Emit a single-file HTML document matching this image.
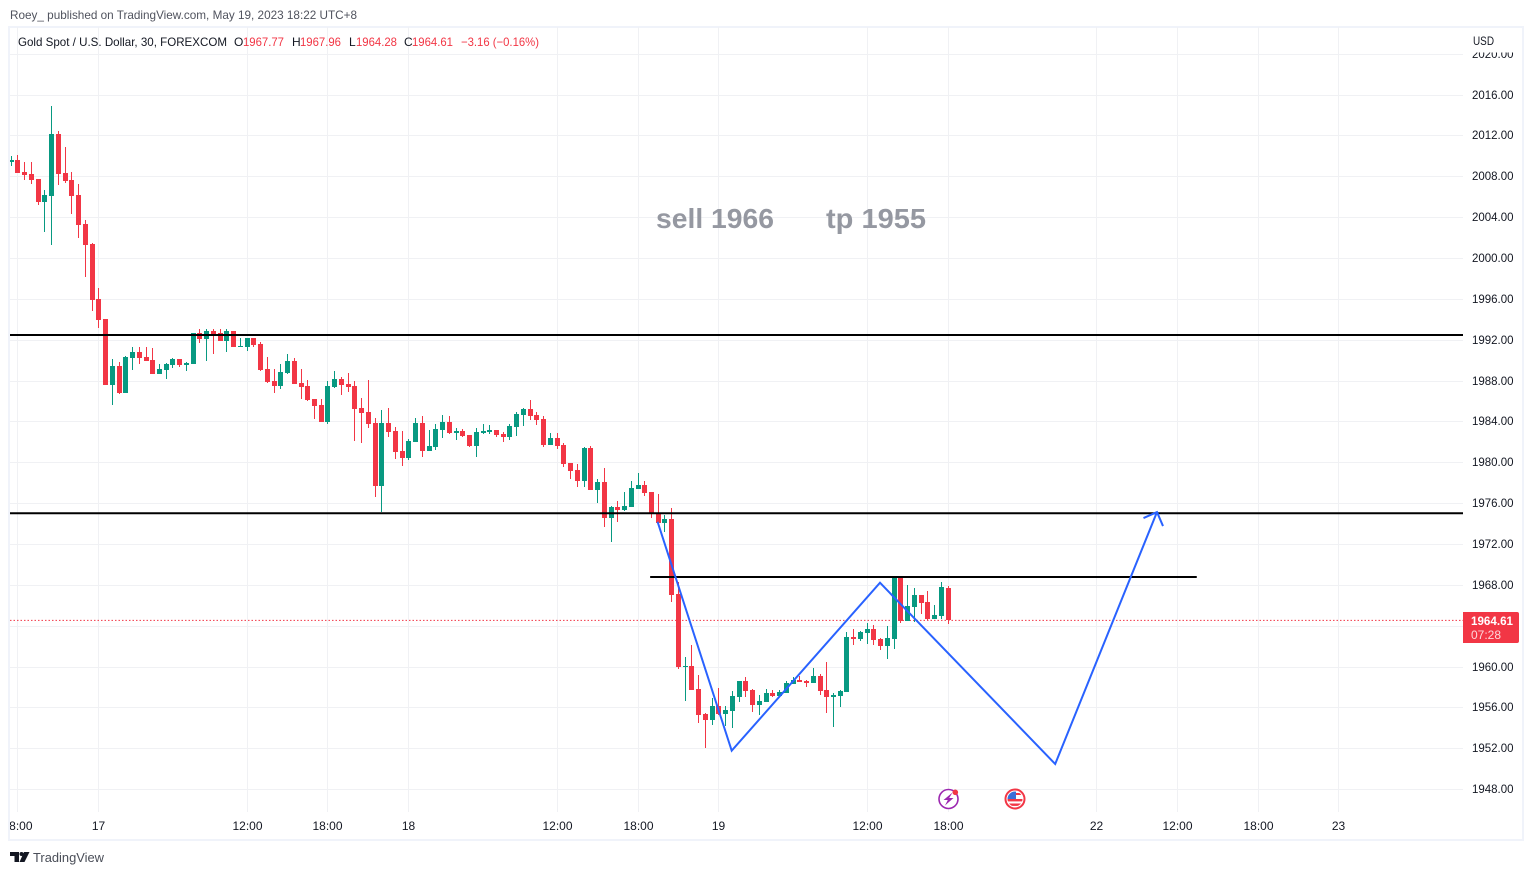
<!DOCTYPE html>
<html lang="en">
<head>
<meta charset="utf-8">
<title>Gold Spot / U.S. Dollar chart</title>
<style>
html,body{margin:0;padding:0;background:#fff;width:1533px;height:875px;overflow:hidden}
svg{display:block;font-family:"Liberation Sans",Arial,sans-serif}
</style>
</head>
<body>
<svg id="chart" xmlns="http://www.w3.org/2000/svg" width="1533" height="875" viewBox="0 0 1533 875">
  <defs>
    <clipPath id="pane-clip"><rect x="10" y="27" width="1453" height="786"/></clipPath>
    <clipPath id="time-clip"><rect x="10" y="813" width="1453" height="26"/></clipPath>
    <clipPath id="price-clip"><rect x="1464" y="52.5" width="58" height="760"/></clipPath>
    <clipPath id="flag-clip"><circle cx="1015" cy="799" r="7.5"/></clipPath>
  </defs>
  <rect x="0" y="0" width="1533" height="875" fill="#ffffff"/>
  <text x="10" y="19" font-size="12" fill="#50535e" textLength="347" lengthAdjust="spacingAndGlyphs">Roey_ published on TradingView.com, May 19, 2023 18:22 UTC+8</text>
  <rect x="9" y="27" width="1514" height="813" fill="none" stroke="#f0f3fa" stroke-width="2"/>
  <g id="grid" shape-rendering="crispEdges"></g>
  <line id="lastLine" x1="10" x2="1463" stroke="#f23645" stroke-width="1" stroke-dasharray="1.5 2"/>
  <g id="candles" shape-rendering="crispEdges" clip-path="url(#pane-clip)"></g>
  <g id="drawings" clip-path="url(#pane-clip)"></g>

  <text x="656" y="228" font-size="28" font-weight="700" fill="#9598a1" textLength="118" lengthAdjust="spacingAndGlyphs">sell 1966</text>
  <text x="826" y="228" font-size="28" font-weight="700" fill="#9598a1" textLength="100" lengthAdjust="spacingAndGlyphs">tp 1955</text>

  <g font-size="12">
    <text x="18" y="46" fill="#131722" textLength="209" lengthAdjust="spacingAndGlyphs">Gold Spot / U.S. Dollar, 30, FOREXCOM</text>
    <text x="234" y="46" fill="#131722">O</text>
    <text x="243" y="46" fill="#f23645" textLength="41" lengthAdjust="spacingAndGlyphs">1967.77</text>
    <text x="292" y="46" fill="#131722">H</text>
    <text x="300" y="46" fill="#f23645" textLength="41" lengthAdjust="spacingAndGlyphs">1967.96</text>
    <text x="349" y="46" fill="#131722">L</text>
    <text x="356" y="46" fill="#f23645" textLength="41" lengthAdjust="spacingAndGlyphs">1964.28</text>
    <text x="404" y="46" fill="#131722">C</text>
    <text x="412" y="46" fill="#f23645" textLength="41" lengthAdjust="spacingAndGlyphs">1964.61</text>
    <text x="461" y="46" fill="#f23645" textLength="78" lengthAdjust="spacingAndGlyphs">−3.16 (−0.16%)</text>
  </g>

  <text x="1473" y="45" font-size="12" fill="#131722" textLength="21" lengthAdjust="spacingAndGlyphs">USD</text>
  <g id="priceAxis" clip-path="url(#price-clip)" font-size="12" fill="#131722"></g>
  <g id="timeAxis" clip-path="url(#time-clip)" font-size="12" fill="#131722" text-anchor="middle"></g>

  <g>
    <path d="M1463 612H1517a2 2 0 0 1 2 2V641a2 2 0 0 1-2 2H1463Z" fill="#f23645"/>
    <text x="1471" y="625" font-size="12" font-weight="700" fill="#ffffff" textLength="42" lengthAdjust="spacingAndGlyphs">1964.61</text>
    <text x="1471" y="639" font-size="12" fill="#ffffff" fill-opacity="0.8" textLength="30" lengthAdjust="spacingAndGlyphs">07:28</text>
  </g>

  <g>
    <circle cx="948.5" cy="799" r="9.5" fill="#ffffff" stroke="#9c27b0" stroke-width="1.6"/>
    <path d="M952.5 792.5L943.5 800H947.8L945 805.5L953.5 798H949.2Z" fill="#9c27b0"/>
    <circle cx="955.3" cy="792.3" r="2.8" fill="#f23645"/>
  </g>
  <g>
    <circle cx="1015" cy="799" r="9.5" fill="#ffffff" stroke="#f23645" stroke-width="2"/>
    <g clip-path="url(#flag-clip)">
      <rect x="1007" y="791" width="16" height="16" fill="#ffffff"/>
      <rect x="1015" y="793" width="9" height="2" fill="#f23645"/>
      <rect x="1007" y="799" width="16" height="2.4" fill="#f23645"/>
      <rect x="1007" y="803.5" width="16" height="2.4" fill="#f23645"/>
      <rect x="1007" y="791" width="9" height="8" fill="#3b6fd8"/>
    </g>
  </g>

  <g>
    <path d="M10 852H19V862H14.5V856H10Z" fill="#131722"/>
    <circle cx="21.5" cy="854" r="2" fill="#131722"/>
    <path d="M24 852H29.5L24.5 862H19.5Z" fill="#131722"/>
    <text x="33" y="862" font-size="13" fill="#4a4e58" textLength="71" lengthAdjust="spacingAndGlyphs">TradingView</text>
  </g>
</svg>
<script>
// Chart data: values
const opens = [
2009.52,2009.69,2008.51,2008.32,2007.83,2005.58,2006.16,2012.23,2008.41,2007.73,
2006.26,2003.42,2001.47,1996.08,1994.12,1987.66,1989.52,1986.88,1990.30,1990.89,
1990.40,1990.11,1988.74,1989.13,1989.62,1990.21,1989.62,1989.72,1992.75,1992.16,
1992.95,1992.75,1991.97,1992.95,1991.38,1991.38,1992.26,1991.67,1989.22,1988.05,
1987.56,1988.83,1990.01,1987.85,1987.56,1986.29,1985.70,1984.03,1987.46,1988.24,
1987.75,1987.56,1985.41,1985.01,1983.94,1977.77,1983.94,1983.15,1981.20,1980.51,
1982.08,1983.94,1981.20,1981.59,1983.25,1984.04,1982.96,1983.16,1982.76,1981.69,
1982.96,1983.06,1983.25,1982.86,1982.57,1983.55,1984.72,1985.31,1984.72,1984.33,
1981.79,1982.47,1981.79,1980.02,1979.34,1978.26,1981.49,1977.38,1978.16,1974.64,
1975.72,1975.42,1975.72,1977.48,1977.87,1977.19,1975.03,1974.15,1974.54,1967.20,
1960.05,1960.15,1957.90,1955.45,1954.86,1956.23,1955.45,1955.74,1957.12,1958.68,
1957.80,1956.33,1956.63,1957.51,1957.21,1957.51,1958.39,1958.78,1958.68,1958.49,
1959.17,1957.80,1957.12,1957.21,1957.61,1962.99,1962.79,1963.38,1963.77,1962.79,
1962.11,1962.79,1968.90,1964.56,1965.93,1967.10,1966.42,1964.75,1965.05,1967.77];
const highs = [
2010.08,2010.18,2009.49,2009.49,2007.83,2006.75,2014.97,2012.53,2010.96,2008.51,
2007.34,2003.81,2001.56,1997.16,1994.12,1990.21,1989.91,1990.50,1991.38,1991.38,
1991.38,1991.28,1989.72,1989.82,1990.30,1990.21,1989.91,1992.75,1993.14,1993.14,
1993.14,1993.14,1993.14,1992.95,1992.26,1992.26,1992.26,1991.87,1990.40,1989.22,
1989.71,1990.69,1990.30,1989.22,1988.15,1986.29,1986.29,1988.05,1989.03,1988.44,
1988.83,1988.05,1986.38,1988.15,1984.43,1985.21,1985.41,1983.55,1983.15,1982.37,
1984.43,1984.62,1983.25,1983.84,1984.72,1984.62,1983.45,1983.35,1982.76,1983.45,
1983.84,1983.74,1983.25,1983.06,1983.84,1985.02,1985.41,1986.19,1985.02,1984.62,
1982.96,1982.96,1981.98,1980.02,1979.93,1981.59,1981.69,1978.46,1979.53,1975.81,
1976.30,1977.19,1978.26,1979.04,1978.26,1977.19,1976.99,1974.93,1975.62,1968.37,
1961.03,1962.21,1959.27,1955.55,1957.02,1958.00,1956.23,1957.70,1958.68,1959.07,
1957.90,1957.31,1957.90,1957.80,1957.80,1958.68,1959.07,1959.17,1958.78,1959.96,
1959.37,1960.54,1957.51,1957.80,1963.48,1963.77,1963.58,1964.36,1964.17,1962.89,
1964.07,1968.90,1968.90,1968.08,1967.79,1967.10,1967.49,1966.12,1968.38,1967.96];
const lows = [
2009.10,2008.45,2007.73,2007.34,2005.28,2002.64,2001.37,2007.24,2007.44,2004.40,
2002.05,1998.23,1994.91,1993.24,1987.66,1985.70,1986.78,1986.88,1989.13,1989.72,
1990.01,1988.74,1988.74,1988.25,1989.33,1989.42,1989.03,1989.72,1991.77,1990.01,
1990.70,1991.97,1990.89,1991.38,1991.38,1990.99,1991.38,1989.03,1987.85,1986.87,
1987.27,1988.73,1987.75,1986.29,1986.09,1984.33,1984.03,1983.84,1987.36,1986.68,
1986.97,1982.17,1981.98,1983.45,1976.69,1975.22,1982.57,1980.41,1979.73,1980.32,
1982.08,1980.61,1981.20,1981.30,1982.47,1982.86,1982.28,1982.57,1981.59,1980.61,
1982.86,1982.86,1982.57,1982.08,1982.28,1982.67,1983.65,1984.23,1983.74,1981.59,
1981.79,1981.39,1979.63,1978.46,1977.67,1977.67,1977.38,1976.11,1973.76,1972.29,
1974.25,1975.32,1975.72,1977.48,1976.79,1974.64,1974.15,1973.27,1966.41,1959.86,
1956.72,1957.80,1954.57,1952.12,1954.37,1955.35,1954.28,1954.08,1956.63,1957.12,
1955.65,1955.35,1956.63,1957.12,1957.21,1957.51,1958.39,1958.59,1958.10,1958.49,
1957.31,1955.55,1954.18,1956.14,1957.61,1962.21,1962.60,1962.31,1962.21,1961.72,
1960.84,1961.82,1964.36,1964.56,1964.46,1965.24,1964.65,1964.75,1964.75,1964.28];
const closes = [
2009.69,2008.45,2008.22,2007.73,2005.58,2006.26,2012.23,2008.32,2007.63,2006.16,
2003.32,2001.37,1995.98,1994.03,1987.66,1989.52,1986.88,1990.40,1990.89,1990.30,
1990.01,1988.74,1989.23,1989.72,1990.21,1989.62,1989.82,1992.75,1992.16,1992.95,
1992.56,1991.97,1992.95,1991.38,1991.48,1992.26,1991.58,1989.13,1987.95,1987.56,
1988.93,1990.01,1987.75,1987.46,1986.19,1985.60,1984.03,1987.56,1988.24,1987.66,
1987.46,1985.31,1984.92,1983.84,1977.77,1983.94,1983.06,1981.10,1980.51,1982.18,
1983.94,1981.20,1981.69,1983.35,1984.04,1982.96,1983.16,1982.67,1981.69,1983.06,
1983.16,1983.25,1982.76,1982.57,1983.65,1984.82,1985.31,1984.62,1984.23,1981.79,
1982.47,1981.69,1979.93,1979.24,1978.26,1981.49,1977.38,1978.16,1974.64,1975.72,
1975.42,1975.81,1977.58,1977.87,1977.09,1975.13,1974.15,1974.54,1967.10,1960.05,
1960.15,1957.80,1955.35,1954.86,1956.23,1955.45,1955.84,1957.21,1958.68,1957.70,
1956.33,1956.72,1957.51,1957.21,1957.60,1958.49,1958.78,1958.59,1958.49,1959.17,
1957.70,1957.12,1957.31,1957.70,1962.99,1962.79,1963.48,1963.77,1962.70,1962.11,
1962.89,1968.90,1964.56,1966.03,1967.10,1966.32,1964.75,1965.14,1967.89,1964.61];

const priceTicks = [2020,2016,2012,2008,2004,2000,1996,1992,1988,1984,1980,1976,1972,1968,1964,1960,1956,1952,1948];
const timeTickLabels = ["18:00","17","12:00","18:00","18","12:00","18:00","19","12:00","18:00","22","12:00","18:00","23"];
const timeTickBars = [1,13,35,47,59,81,93,105,127,139,161,173,185,197];

const lastPrice = 1964.61;
const levelPrices = [1992.55,1975.10];
const shortLevelPrice = 1968.86;
const shortLevelBars = [94.8,175.9];
const pathBars = [95.9,106.9,128.9,154.9,170.0];
const pathPrices = [1974.27,1951.86,1968.30,1950.55,1975.22];

const NS = "http://www.w3.org/2000/svg";
const UP = "#089981", DOWN = "#f23645", GRID = "#f0f1f4", BLUE = "#2962ff";
function barX(i){ return 11.2 + 6.74 * i; }
function priceY(p){ return 95.5 + (2016 - p) * 10.2145; }
function make(tag, attrs, parent){
  const el = document.createElementNS(NS, tag);
  for (const k in attrs) el.setAttribute(k, attrs[k]);
  parent.appendChild(el);
  return el;
}
const gridG = document.getElementById("grid");
const candleG = document.getElementById("candles");
const drawG = document.getElementById("drawings");
const priceG = document.getElementById("priceAxis");
const timeG = document.getElementById("timeAxis");

priceTicks.forEach(function(p){
  const gy = Math.floor(priceY(p) - 0.5);
  const line = make("rect", {x:10, y:gy, width:1453, height:1, fill:GRID}, gridG);
  
  
  const label = make("text", {x:1472, y:gy + 4, textLength:41.5, lengthAdjust:"spacingAndGlyphs"}, priceG);
  label.textContent = p.toFixed(2);
  
  
});
timeTickBars.forEach(function(b, k){
  const px = Math.floor(barX(b));
  const line = make("rect", {x:px, y:27, width:1, height:785, fill:GRID}, gridG);
  
  
  const label = make("text", {x:px + 0.5, y:830}, timeG);
  label.textContent = timeTickLabels[k];
  
  
});

const lastLine = document.getElementById("lastLine");
lastLine.setAttribute("y1", priceY(lastPrice));
lastLine.setAttribute("y2", priceY(lastPrice));

opens.forEach(function(o, i){
  const c = closes[i], color = c >= o ? UP : DOWN;
  const px = Math.floor(barX(i));
  const hiY = Math.round(priceY(highs[i])), loY = Math.round(priceY(lows[i]));
  const topY = Math.round(priceY(Math.max(o, c))), botY = Math.round(priceY(Math.min(o, c)));
  const wick = make("rect", {x:px, y:hiY, width:1, height:Math.max(1, loY - hiY), fill:color}, candleG);
  
  
  const body = make("rect", {x:px - 2, y:topY, width:5, height:Math.max(1, botY - topY), fill:color}, candleG);
  
  
});

levelPrices.forEach(function(p){
  const l = make("line", {x1:10, x2:1463, y1:priceY(p), y2:priceY(p), stroke:"#000000", "stroke-width":2}, drawG);
  
  
});
const shortLine = make("line", {x1:barX(shortLevelBars[0]), x2:barX(shortLevelBars[1]), y1:priceY(shortLevelPrice), y2:priceY(shortLevelPrice), stroke:"#000000", "stroke-width":2}, drawG);



const pathPoints = pathBars.map(function(b, i){ return barX(b).toFixed(1) + "," + priceY(pathPrices[i]).toFixed(1); }).join(" ");
const projection = make("polyline", {points:pathPoints, fill:"none", stroke:BLUE, "stroke-width":2, "stroke-linejoin":"miter"}, drawG);



const tipX = barX(pathBars[4]), tipY = priceY(pathPrices[4]);
const head = make("polyline", {points:(tipX-13.5)+","+(tipY+6)+" "+tipX+","+tipY+" "+(tipX+6)+","+(tipY+14), fill:"none", stroke:BLUE, "stroke-width":2}, drawG);


</script>
</body>
</html>
